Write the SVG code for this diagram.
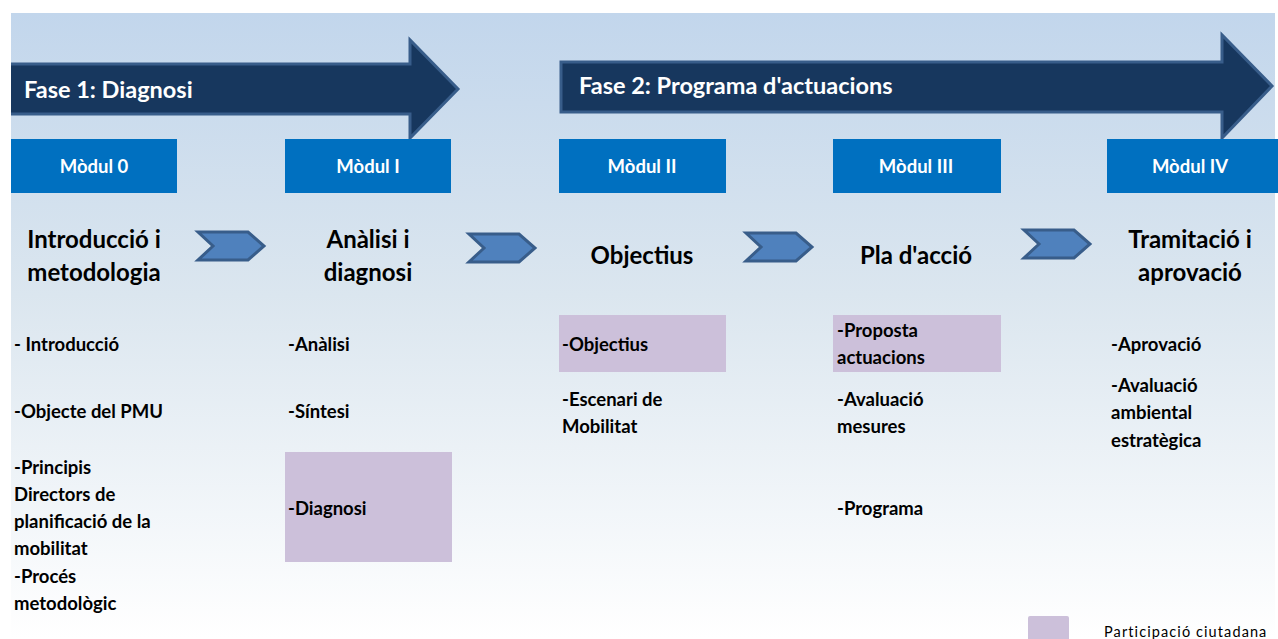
<svg xmlns="http://www.w3.org/2000/svg" width="1278" height="639" viewBox="0 0 1278 639">
<defs>
<linearGradient id="bg" x1="0" y1="0" x2="0" y2="1">
<stop offset="0" stop-color="#c2d6ec"/>
<stop offset="0.45" stop-color="#dbe6ef"/>
<stop offset="1" stop-color="#ffffff"/>
</linearGradient>
<style>
.phase{fill:#17375e;stroke:#385d8a;stroke-width:3}
.phtxt{font-family:Lato,"Liberation Sans",sans-serif;font-weight:bold;font-size:23.5px;fill:#ffffff}
.mod{fill:#0070c0}
.modtxt{font-family:Lato,"Liberation Sans",sans-serif;font-weight:bold;font-size:18.5px;fill:#ffffff;text-anchor:middle}
.title{font-family:Lato,"Liberation Sans",sans-serif;font-weight:bold;font-size:24px;fill:#000000;text-anchor:middle}
.item{font-family:Lato,"Liberation Sans",sans-serif;font-weight:bold;font-size:18.5px;fill:#000000}
.part{fill:#ccc0da}
.chev{fill:#4f81bd;stroke:#385d8a;stroke-width:3;stroke-linejoin:miter}
.leg{font-family:Lato,"Liberation Sans",sans-serif;font-size:14.5px;fill:#000000;letter-spacing:1.1px}
</style>
</defs>
<rect x="0" y="0" width="1278" height="639" fill="#ffffff"/>
<rect x="11" y="13" width="1264" height="626" fill="url(#bg)"/>

<g id="phase1">
<path class="phase" d="M11,64 L410,64 L410,40 L458,89 L410,138 L410,114 L11,114"/>
<text class="phtxt" x="24" y="98">Fase 1: Diagnosi</text>
</g>
<g id="phase2">
<path class="phase" d="M561,62 L1222,62 L1222,35 L1272,86 L1222,138 L1222,112 L561,112 Z"/>
<text class="phtxt" x="579" y="94">Fase 2: Programa d'actuacions</text>
</g>

<g id="modul0">
<rect class="mod" x="11" y="139" width="166" height="54"/>
<text class="modtxt" x="94" y="173">Mòdul 0</text>
<text class="title" x="94" y="248">Introducció i</text>
<text class="title" x="94" y="281">metodologia</text>
<text class="item" x="14" y="351">- Introducció</text>
<text class="item" x="14" y="418">-Objecte del PMU</text>
<text class="item" x="14" y="474">-Principis</text>
<text class="item" x="14" y="501">Directors de</text>
<text class="item" x="14" y="528">planificació de la</text>
<text class="item" x="14" y="555">mobilitat</text>
<text class="item" x="14" y="583">-Procés</text>
<text class="item" x="14" y="610">metodològic</text>
</g>

<g id="modul1">
<rect class="mod" x="285" y="139" width="166" height="54"/>
<text class="modtxt" x="368" y="173">Mòdul I</text>
<text class="title" x="368" y="248">Anàlisi i</text>
<text class="title" x="368" y="281">diagnosi</text>
<text class="item" x="288" y="351">-Anàlisi</text>
<text class="item" x="288" y="418">-Síntesi</text>
<rect class="part" x="285" y="452" width="167" height="110"/>
<text class="item" x="288" y="515">-Diagnosi</text>
</g>

<g id="modul2">
<rect class="mod" x="559" y="139" width="167" height="54"/>
<text class="modtxt" x="642" y="173">Mòdul II</text>
<text class="title" x="642" y="264">Objectius</text>
<rect class="part" x="559" y="315" width="167" height="57"/>
<text class="item" x="562" y="351">-Objectius</text>
<text class="item" x="562" y="406">-Escenari de</text>
<text class="item" x="562" y="433">Mobilitat</text>
</g>

<g id="modul3">
<rect class="mod" x="833" y="139" width="168" height="54"/>
<text class="modtxt" x="916" y="173">Mòdul III</text>
<text class="title" x="916" y="264">Pla d'acció</text>
<rect class="part" x="833" y="315" width="168" height="57"/>
<text class="item" x="837" y="337">-Proposta</text>
<text class="item" x="837" y="364">actuacions</text>
<text class="item" x="837" y="406">-Avaluació</text>
<text class="item" x="837" y="433">mesures</text>
<text class="item" x="837" y="515">-Programa</text>
</g>

<g id="modul4">
<rect class="mod" x="1107" y="139" width="171" height="54"/>
<text class="modtxt" x="1190" y="173">Mòdul IV</text>
<text class="title" x="1190" y="248">Tramitació i</text>
<text class="title" x="1190" y="281">aprovació</text>
<text class="item" x="1111" y="351">-Aprovació</text>
<text class="item" x="1111" y="392">-Avaluació</text>
<text class="item" x="1111" y="419">ambiental</text>
<text class="item" x="1111" y="447">estratègica</text>
</g>

<g id="connectors">
<path class="chev" d="M198,232 L248,232 L264,246 L248,260 L198,260 L213,246 Z"/>
<path class="chev" d="M469,234 L519,234 L535,248 L519,262 L469,262 L484,248 Z"/>
<path class="chev" d="M746,233 L796,233 L812,247 L796,261 L746,261 L761,247 Z"/>
<path class="chev" d="M1024,230 L1074,230 L1090,244 L1074,258 L1024,258 L1039,244 Z"/>
</g>

<g id="legend">
<rect class="part" x="1028" y="616" width="41" height="30" rx="2"/>
<text class="leg" x="1104" y="637">Participació ciutadana</text>
</g>
</svg>
